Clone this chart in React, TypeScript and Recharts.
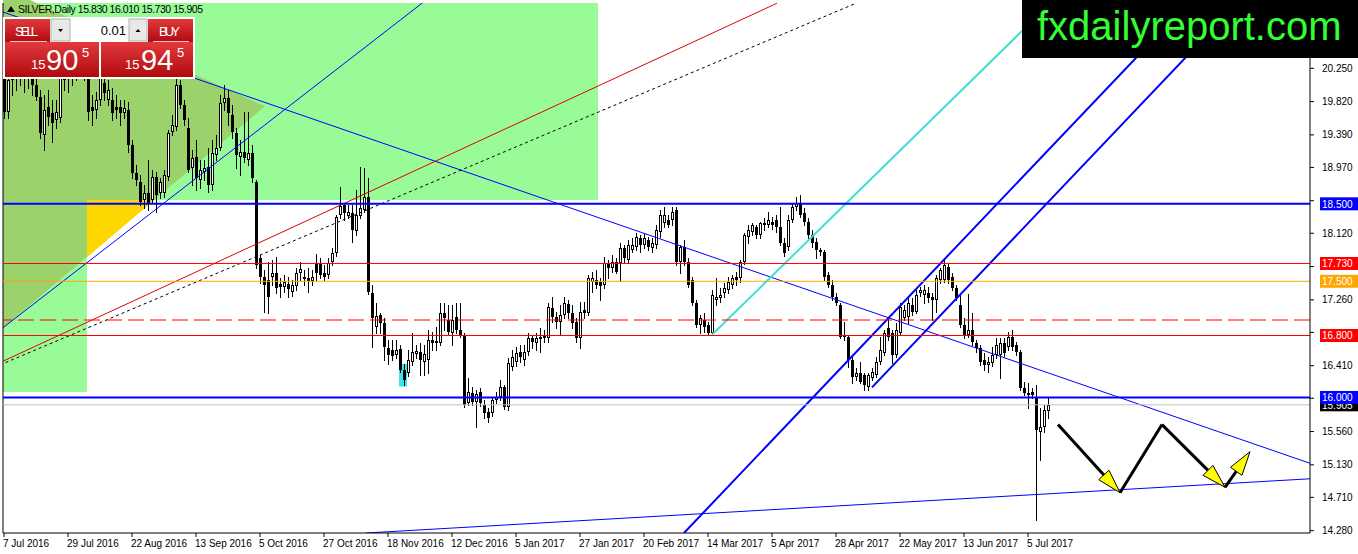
import { ComposedChart, Bar, XAxis, YAxis, ReferenceLine, ReferenceArea } from "recharts";

type Ohlc = [number, number, number, number];

// daily candles, [open, high, low, close]
const barsJulSep16: Ohlc[] = [
  [20.29, 20.42, 19.61, 19.69], [19.69, 20.33, 19.61, 20.1], [20.1, 20.42, 19.91, 20.2], [20.2, 20.55, 19.97, 20.36],
  [20.36, 20.62, 20.03, 20.29], [20.29, 20.62, 19.94, 20.42], [20.42, 20.55, 20.0, 20.23], [20.23, 20.42, 19.91, 20.03],
  [20.03, 20.23, 19.84, 19.88], [19.88, 19.97, 19.35, 19.42], [19.39, 19.91, 19.2, 19.71], [19.75, 19.97, 19.52, 19.62],
  [19.67, 19.84, 19.3, 19.54], [19.58, 19.84, 19.48, 19.69], [19.61, 20.36, 19.56, 20.14], [20.1, 20.55, 19.97, 20.29],
  [20.29, 20.55, 19.94, 20.16], [20.16, 20.62, 20.03, 20.36], [20.36, 20.68, 20.1, 20.23], [20.23, 20.74, 20.12, 20.42],
  [20.42, 20.68, 20.1, 20.25], [20.23, 20.49, 19.58, 19.69], [19.75, 19.91, 19.52, 19.7], [19.71, 19.94, 19.61, 19.84],
  [19.84, 20.36, 19.78, 20.14], [20.06, 20.29, 19.84, 19.93], [19.84, 20.1, 19.78, 19.97], [19.84, 20.0, 19.58, 19.67],
  [19.75, 19.91, 19.61, 19.71], [19.75, 19.84, 19.52, 19.67], [19.67, 19.84, 19.61, 19.74], [19.71, 19.82, 19.17, 19.26],
  [19.26, 19.32, 18.83, 18.9], [18.9, 19.0, 18.74, 18.81], [18.78, 18.87, 18.49, 18.52], [18.55, 18.74, 18.45, 18.64],
  [18.64, 19.07, 18.42, 18.51], [18.55, 18.94, 18.51, 18.85], [18.85, 18.91, 18.4, 18.61], [18.64, 18.83, 18.58, 18.78],
  [18.64, 18.94, 18.59, 18.87], [18.85, 19.45, 18.81, 19.42], [19.43, 19.65, 19.39, 19.52], [19.49, 20.13, 19.45, 20.03],
  [20.03, 20.1, 19.74, 19.78], [19.78, 19.84, 19.52, 19.58], [19.48, 19.61, 18.91, 18.94], [18.96, 19.2, 18.74, 19.09],
  [19.1, 19.32, 18.68, 18.83], [18.81, 19.07, 18.7, 18.94], [18.91, 19.07, 18.81, 18.96], [18.98, 19.22, 18.65, 18.74],
  [18.74, 19.32, 18.68, 19.16], [19.13, 19.39, 19.07, 19.22], [19.22, 19.91, 19.2, 19.8], [19.8, 20.03, 19.71, 19.87],
  [19.87, 19.97, 19.52, 19.67], [19.65, 19.78, 19.35, 19.43], [19.42, 19.48, 18.96, 19.13], [19.1, 19.32, 18.87, 19.17],
  [19.17, 19.69, 19.04, 19.09], [19.07, 19.69, 19.0, 19.16], [19.16, 19.26, 18.78, 18.83], [18.78, 18.81, 17.67, 17.71],
];

const barsOctDec16: Ohlc[] = [
  [17.8, 17.84, 17.48, 17.56], [17.56, 17.65, 17.1, 17.45], [17.52, 17.75, 17.09, 17.3], [17.56, 17.78, 17.45, 17.61],
  [17.61, 17.81, 17.35, 17.41], [17.47, 17.54, 17.3, 17.43], [17.43, 17.58, 17.36, 17.49], [17.47, 17.56, 17.3, 17.4],
  [17.36, 17.52, 17.31, 17.45], [17.44, 17.67, 17.39, 17.61], [17.61, 17.75, 17.52, 17.66], [17.53, 17.65, 17.45, 17.56],
  [17.54, 17.67, 17.36, 17.5], [17.5, 17.65, 17.45, 17.56], [17.72, 17.85, 17.52, 17.61], [17.72, 17.8, 17.54, 17.58],
  [17.61, 17.71, 17.52, 17.56], [17.58, 17.8, 17.54, 17.74], [17.75, 17.93, 17.71, 17.87], [17.87, 18.36, 17.83, 18.33],
  [18.36, 18.72, 18.32, 18.47], [18.49, 18.51, 18.29, 18.38], [18.34, 18.49, 18.32, 18.4], [18.38, 18.49, 18.01, 18.16],
  [18.15, 18.68, 18.1, 18.36], [18.34, 18.98, 18.32, 18.45], [18.42, 18.96, 18.4, 18.59], [18.59, 18.83, 17.34, 17.36],
  [17.35, 17.45, 16.65, 17.03], [16.91, 17.22, 16.83, 17.05], [17.07, 17.09, 16.83, 16.96], [16.96, 17.03, 16.48, 16.65],
  [16.64, 16.74, 16.43, 16.55], [16.61, 16.74, 16.48, 16.54], [16.55, 16.74, 16.51, 16.61], [16.63, 16.68, 16.33, 16.36],
  [16.36, 16.43, 16.16, 16.23], [16.32, 16.61, 16.28, 16.48], [16.46, 16.83, 16.42, 16.59], [16.56, 16.68, 16.51, 16.6],
  [16.59, 16.7, 16.29, 16.48], [16.46, 16.68, 16.29, 16.56], [16.48, 16.87, 16.32, 16.74], [16.74, 16.85, 16.61, 16.7],
  [16.73, 16.91, 16.61, 16.7], [16.7, 17.22, 16.68, 17.09], [17.09, 17.22, 16.87, 17.03], [17.0, 17.19, 16.81, 16.85],
  [16.83, 17.19, 16.68, 17.0], [17.04, 17.22, 16.83, 16.87], [16.87, 17.22, 16.78, 16.81], [16.79, 16.83, 15.88, 15.9],
  [15.93, 16.25, 15.9, 16.07], [16.06, 16.14, 15.9, 15.94], [15.94, 16.1, 15.62, 16.05], [16.07, 16.12, 15.89, 15.93],
  [15.9, 15.97, 15.74, 15.8], [15.81, 15.86, 15.68, 15.74], [15.8, 15.99, 15.76, 15.97], [15.97, 16.07, 15.93, 16.01],
  [16.01, 16.23, 15.97, 16.14], [16.14, 16.16, 15.85, 15.88], [15.88, 16.51, 15.84, 16.45], [16.39, 16.61, 16.36, 16.52],
];

const barsJanApr17: Ohlc[] = [
  [16.46, 16.65, 16.41, 16.57], [16.59, 16.68, 16.46, 16.52], [16.48, 16.68, 16.42, 16.59], [16.59, 16.83, 16.55, 16.77],
  [16.77, 16.81, 16.64, 16.72], [16.7, 16.83, 16.61, 16.77], [16.76, 16.9, 16.59, 16.78], [16.79, 16.87, 16.72, 16.77],
  [16.77, 17.22, 16.72, 17.17], [17.16, 17.3, 16.97, 17.04], [17.04, 17.1, 16.9, 16.97], [16.97, 17.19, 16.81, 17.07],
  [17.07, 17.3, 17.03, 17.22], [17.21, 17.26, 17.03, 17.09], [17.09, 17.19, 16.9, 16.96], [16.97, 17.03, 16.72, 16.77],
  [16.77, 17.23, 16.64, 17.1], [17.13, 17.23, 17.03, 17.09], [17.09, 17.58, 17.07, 17.54], [17.49, 17.62, 17.36, 17.54],
  [17.52, 17.65, 17.41, 17.45], [17.49, 17.54, 17.26, 17.44], [17.45, 17.81, 17.41, 17.74], [17.74, 17.78, 17.54, 17.67],
  [17.67, 17.84, 17.62, 17.75], [17.75, 17.8, 17.61, 17.62], [17.74, 17.99, 17.5, 17.93], [17.93, 17.97, 17.75, 17.8],
  [17.78, 18.03, 17.74, 17.97], [17.9, 18.06, 17.88, 17.97], [17.94, 18.12, 17.9, 18.07], [18.06, 18.1, 17.88, 17.97],
  [17.97, 18.12, 17.93, 18.06], [18.03, 18.07, 17.9, 17.94], [17.93, 18.06, 17.88, 17.99], [17.97, 18.23, 17.93, 18.16],
  [18.14, 18.42, 18.07, 18.36], [18.25, 18.46, 18.2, 18.36], [18.29, 18.36, 18.2, 18.23], [18.29, 18.46, 18.23, 18.4],
  [18.42, 18.46, 17.71, 17.75], [17.75, 17.97, 17.61, 17.94], [17.94, 18.03, 17.71, 17.75], [17.75, 17.8, 17.43, 17.45],
  [17.52, 17.56, 17.19, 17.22], [17.22, 17.26, 16.91, 16.94], [16.94, 17.07, 16.83, 17.03], [17.0, 17.09, 16.85, 16.91],
  [16.94, 16.97, 16.82, 16.83], [16.83, 17.39, 16.81, 17.32], [17.26, 17.54, 17.19, 17.3], [17.28, 17.41, 17.23, 17.32],
  [17.35, 17.48, 17.3, 17.41], [17.39, 17.56, 17.35, 17.49], [17.45, 17.58, 17.41, 17.54], [17.56, 17.62, 17.45, 17.52],
  [17.54, 17.78, 17.49, 17.75], [17.75, 18.12, 17.72, 18.1], [18.07, 18.23, 17.99, 18.16], [18.14, 18.25, 18.1, 18.23],
  [18.2, 18.23, 18.06, 18.1], [18.1, 18.27, 18.06, 18.25], [18.25, 18.32, 18.16, 18.23], [18.23, 18.4, 18.2, 18.29],
];

const barsAprJul17: Ohlc[] = [
  [18.27, 18.33, 18.18, 18.23], [18.29, 18.36, 18.14, 18.2], [18.2, 18.46, 17.97, 17.99], [17.99, 18.06, 17.83, 17.87],
  [17.94, 18.36, 17.9, 18.29], [18.29, 18.51, 18.27, 18.46], [18.46, 18.59, 18.42, 18.51], [18.51, 18.61, 18.33, 18.36],
  [18.38, 18.45, 18.23, 18.27], [18.27, 18.32, 18.06, 18.1], [18.1, 18.16, 17.94, 17.99], [18.01, 18.06, 17.8, 17.9],
  [17.88, 17.93, 17.84, 17.9], [17.88, 17.9, 17.52, 17.56], [17.58, 17.62, 17.43, 17.45], [17.45, 17.52, 17.26, 17.3],
  [17.3, 17.35, 17.19, 17.22], [17.19, 17.22, 16.77, 16.78], [16.78, 16.97, 16.74, 16.81], [16.78, 16.81, 16.39, 16.48],
  [16.48, 16.52, 16.19, 16.26], [16.26, 16.38, 16.23, 16.32], [16.32, 16.46, 16.19, 16.2], [16.29, 16.32, 16.1, 16.16],
  [16.14, 16.32, 16.1, 16.29], [16.25, 16.38, 16.23, 16.33], [16.29, 16.52, 16.26, 16.46], [16.46, 16.78, 16.43, 16.61],
  [16.57, 16.87, 16.55, 16.83], [16.9, 17.04, 16.74, 16.78], [16.83, 16.87, 16.45, 16.55], [16.55, 16.96, 16.52, 16.87],
  [16.83, 17.22, 16.81, 17.17], [17.03, 17.19, 17.0, 17.13], [17.04, 17.3, 16.96, 17.22], [17.19, 17.28, 17.07, 17.1],
  [17.1, 17.39, 17.09, 17.32], [17.35, 17.43, 17.31, 17.39], [17.32, 17.45, 17.22, 17.39], [17.35, 17.43, 17.23, 17.28],
  [17.3, 17.35, 17.0, 17.26], [17.26, 17.58, 17.1, 17.54], [17.52, 17.67, 17.48, 17.65], [17.52, 17.78, 17.49, 17.71],
  [17.68, 17.74, 17.48, 17.52], [17.56, 17.61, 17.39, 17.41], [17.41, 17.45, 17.26, 17.28], [17.19, 17.32, 16.91, 16.94],
  [16.94, 17.03, 16.77, 16.81], [16.81, 17.34, 16.78, 16.87], [16.87, 17.09, 16.68, 16.72], [16.7, 16.74, 16.59, 16.64],
  [16.64, 16.68, 16.42, 16.46], [16.48, 16.57, 16.36, 16.42], [16.42, 16.52, 16.33, 16.46], [16.45, 16.65, 16.41, 16.55],
  [16.55, 16.77, 16.51, 16.68], [16.55, 16.77, 16.25, 16.7], [16.7, 16.77, 16.54, 16.57], [16.65, 16.85, 16.61, 16.78],
  [16.78, 16.87, 16.61, 16.65], [16.68, 16.72, 16.55, 16.59], [16.59, 16.61, 16.1, 16.12], [16.12, 16.2, 16.03, 16.06],
  [16.03, 16.19, 15.86, 16.06], [16.07, 16.12, 15.99, 16.03], [16.01, 16.16, 14.42, 15.58], [15.55, 15.86, 15.19, 15.62],
  [15.62, 15.9, 15.55, 15.84], [15.83, 16.01, 15.73, 15.905],
];

const dateLabels = [
  "7 Jul 2016", "29 Jul 2016", "22 Aug 2016", "13 Sep 2016", "5 Oct 2016", "27 Oct 2016",
  "18 Nov 2016", "12 Dec 2016", "5 Jan 2017", "27 Jan 2017", "20 Feb 2017", "14 Mar 2017",
  "5 Apr 2017", "28 Apr 2017", "22 May 2017", "13 Jun 2017", "5 Jul 2017",
];
const dateTickBars = dateLabels.map((_, k) => k * 16);
const priceTicks = [20.25, 19.82, 19.39, 18.97, 18.54, 18.12, 17.69, 17.26, 16.84, 16.41, 15.99, 15.56, 15.13, 14.71, 14.28];

// horizontal levels
const blueLevels = [18.5, 16.0];
const redLevels = [17.73, 16.8];
const orangeLevel = 17.5;
const dashedLevel = 17.0;
const lastClose = 15.905;
const taggedLevels = [...blueLevels, ...redLevels, orangeLevel, lastClose];

// trend lines, {bar index, price}
const blueRise = [{ x: -1, y: 16.87 }, { x: 105, y: 21.11 }];
const blueFall = [{ x: -1, y: 20.99 }, { x: 326.5, y: 15.15 }];
const redRise = [{ x: -1, y: 16.45 }, { x: 193.25, y: 21.09 }];
const dottedRise = [{ x: -1, y: 16.42 }, { x: 213, y: 21.09 }];
const cyanRise = [{ x: 177, y: 16.81 }, { x: 262, y: 21.11 }];
const channelLow = [{ x: 170, y: 14.25 }, { x: 296, y: 21.09 }];
const channelHigh = [{ x: 217, y: 16.13 }, { x: 308.3, y: 21.09 }];
const supportLow = [{ x: 90.5, y: 14.25 }, { x: 326.5, y: 14.95 }];

// zigzag forecast
const forecastPath = [
  { x: 263.5, y: 15.65 }, { x: 279, y: 14.77 }, { x: 289.5, y: 15.65 }, { x: 305.25, y: 14.84 }, { x: 311.5, y: 15.3 },
];
const forecastHeads = [true, false, true, true];

// shaded zones
const wedge = { left: -0.25, right: 65.25, top: 21.29, bottom: 16.9, tip: 19.76 };
const wedgeCut = { left: 20.75, right: 37.5, top: 18.55, bottom: 17.81 };

const data = [...barsJulSep16, ...barsOctDec16, ...barsJanApr17, ...barsAprJul17].map(([open, high, low, close], i) => ({
  i,
  open,
  high,
  low,
  close,
  range: [low, high],
}));

const FONT = "Tahoma, 'Liberation Sans', Arial, sans-serif";
const X_DOMAIN: [number, number] = [-0.25, 326.5];
const Y_DOMAIN: [number, number] = [14.25, 21.093];

const Candle = (props: any) => {
  const { x, y, width, height, payload } = props;
  if (!payload) return null;
  const { open, high, low, close } = payload;
  const top = Math.min(y, y + height);
  const span = Math.abs(height);
  const k = high === low ? 0 : span / (high - low);
  const cx = Math.round(x + width / 2);
  const yO = top + (high - open) * k;
  const yC = top + (high - close) * k;
  const bTop = Math.round(Math.min(yO, yC));
  const bH = Math.max(1, Math.round(Math.max(yO, yC)) - bTop);
  return (
    <g shapeRendering="crispEdges">
      <line x1={cx + 0.5} x2={cx + 0.5} y1={Math.round(top)} y2={Math.round(top + span) + 1} stroke="#000" />
      {close > open ? (
        <rect x={cx - 0.5} y={bTop + 0.5} width={2} height={Math.max(bH - 1, 1)} fill="#fff" stroke="#000" />
      ) : (
        <rect x={cx - 1} y={bTop} width={3} height={bH} fill="#000" />
      )}
    </g>
  );
};

const PriceTag = (props: any) => {
  const { viewBox, text, bg } = props;
  if (!viewBox) return null;
  const right = viewBox.x + viewBox.width;
  return (
    <g>
      <rect x={right + 10} y={viewBox.y - 6.5} width={38} height={13} fill={bg} />
      <text x={right + 12} y={viewBox.y + 4} fill="#fff" fontSize={10} fontFamily={FONT}>
        {text}
      </text>
    </g>
  );
};

// horizontal level drawn with an explicit colour
const levelShape = (color: string, width = 1, dash?: string) => (p: any) =>
  (
    <line
      x1={p.x1}
      x2={p.x2}
      y1={p.y1}
      y2={p.y2}
      stroke={color}
      strokeWidth={width}
      strokeDasharray={dash}
      fill="none"
    />
  );

// price ticks; the part of a tick label that sits under a coloured price tag is not drawn
const PriceTick = (props: any) => {
  const { x, y, payload, index } = props;
  const v: number = payload.value;
  const pxPerUnit = 530 / (Y_DOMAIN[1] - Y_DOMAIN[0]);
  const bands = taggedLevels.map((lv) => y + (v - lv) * pxPerUnit).filter((ty) => Math.abs(ty - y) < 12);
  const id = `pt-clip-${index}`;
  let clip: string | undefined;
  let clipEl = null;
  if (bands.length) {
    clip = `url(#${id})`;
    clipEl = (
      <clipPath id={id}>
        <rect x={x - 2} y={bands[0] + 6.5} width={60} height={20} />
      </clipPath>
    );
  }
  return (
    <g>
      {clipEl}
      <text x={x} y={y} dy="0.355em" fontSize={10} fill="#000" fontFamily={FONT} clipPath={clip}>
        {v.toFixed(3)}
      </text>
    </g>
  );
};

const arrowShape = (head: boolean) => (p: any) => {
  const { x1, y1, x2, y2 } = p;
  const len = Math.hypot(x2 - x1, y2 - y1) || 1;
  const ux = (x2 - x1) / len;
  const uy = (y2 - y1) / len;
  const bx = x2 - ux * 24;
  const by = y2 - uy * 24;
  const w = 7;
  return (
    <g>
      <line x1={x1} y1={y1} x2={head ? bx : x2} y2={head ? by : y2} stroke="#000" strokeWidth={3} />
      {head && (
        <polygon
          points={`${x2},${y2} ${bx - uy * w},${by + ux * w} ${bx + uy * w},${by - ux * w}`}
          fill="#ffff00"
          stroke="#000"
          strokeWidth={1}
        />
      )}
    </g>
  );
};

const WedgeShape = (p: any) => {
  const { x, y, width, height } = p;
  const f = (wedge.top - wedge.tip) / (wedge.top - wedge.bottom);
  return <polygon points={`${x},${y} ${x + width},${y + f * height} ${x},${y + height}`} fill="#9bd26c" />;
};

const CutShape = (p: any) => {
  const { x, y, width, height } = p;
  return <polygon points={`${x},${y} ${x + width},${y} ${x},${y + height}`} fill="#ffd700" />;
};

const DateTick = (props: any) => {
  const { x, y, payload } = props;
  return (
    <text x={x - 1} y={y + 8} fontSize={10} fill="#000" fontFamily={FONT}>
      {dateLabels[Math.round(payload.value / 16)]}
    </text>
  );
};

const Overlay = () => (
  <svg width={1358} height={554} style={{ position: "absolute", left: 0, top: 0, pointerEvents: "none" }}>
    <defs>
      <linearGradient id="redBtn" x1="0" y1="0" x2="0" y2="1">
        <stop offset="0" stopColor="#e23a3c" />
        <stop offset="1" stopColor="#b00a10" />
      </linearGradient>
    </defs>
    <rect x={1022} y={0} width={336} height={58} fill="#000" />
    <text x={1037} y={40} fontSize={40} fill="#33ff33" fontFamily="Arial, 'Liberation Sans', sans-serif">
      fxdailyreport.com
    </text>
    <polygon points="7,12 11,6 15,12" fill="#000" />
    <text x={18} y={13} fontSize={10.5} textLength={185} fontFamily={FONT} fill="#000">
      SILVER,Daily  15.830 16.010 15.730 15.905
    </text>
    <rect x={3} y={17} width={192} height={62} fill="#fff" />
    <rect x={5} y={19} width={45} height={23} fill="url(#redBtn)" />
    <rect x={148} y={19} width={45} height={23} fill="url(#redBtn)" />
    <rect x={5} y={42} width={94} height={35} fill="url(#redBtn)" />
    <rect x={101} y={42} width={92} height={35} fill="url(#redBtn)" />
    <line x1={10} x2={47} y1={41.5} y2={41.5} stroke="#f4c0c0" />
    <line x1={153} x2={189} y1={41.5} y2={41.5} stroke="#f4c0c0" />
    <rect x={51} y={19} width={19} height={22} fill="#e8e8e8" stroke="#b0b0b0" />
    <polygon points="58,29 63,29 60.5,32" fill="#000" />
    <rect x={71} y={19} width={57} height={22} fill="#fff" />
    <rect x={129} y={19} width={18} height={22} fill="#e8e8e8" stroke="#b0b0b0" />
    <polygon points="135.5,32 140.5,32 138,29" fill="#000" />
    <text x={15} y={36} fontSize={13} textLength={23} fill="#fff" fontFamily={FONT}>SELL</text>
    <text x={159} y={36} fontSize={13} textLength={21} fill="#fff" fontFamily={FONT}>BUY</text>
    <text x={126} y={35} fontSize={13} textAnchor="end" fill="#000" fontFamily={FONT}>0.01</text>
    <text x={31} y={69} fontSize={13} fill="#fff" fontFamily={FONT}>15</text>
    <text x={46} y={70} fontSize={29} fill="#fff" fontFamily={FONT}>90</text>
    <text x={82} y={57} fontSize={13} fill="#fff" fontFamily={FONT}>5</text>
    <text x={125} y={69} fontSize={13} fill="#fff" fontFamily={FONT}>15</text>
    <text x={141} y={70} fontSize={29} fill="#fff" fontFamily={FONT}>94</text>
    <text x={177} y={57} fontSize={13} fill="#fff" fontFamily={FONT}>5</text>
  </svg>
);

const App = () => {
  return (
    <div style={{ position: "absolute", left: 0, top: 0, width: 1358, height: 554, background: "#fff" }}>
      <ComposedChart width={1358} height={554} data={data} margin={{ top: 3, right: 0, bottom: 0, left: 3 }}>
        <XAxis
          type="number"
          dataKey="i"
          domain={X_DOMAIN}
          allowDataOverflow
          ticks={dateTickBars}
          interval={0}
          height={21}
          tickSize={4}
          axisLine={{ stroke: "#000" }}
          tickLine={{ stroke: "#000" }}
          tick={<DateTick />}
        />
        <YAxis
          type="number"
          orientation="right"
          domain={Y_DOMAIN}
          allowDataOverflow
          ticks={priceTicks}
          interval={0}
          width={48}
          tickSize={4}
          tickMargin={8}
          axisLine={{ stroke: "#000" }}
          tickLine={{ stroke: "#000" }}
          tick={<PriceTick />}
        />

        <ReferenceArea x1={X_DOMAIN[0]} x2={148.5} y1={18.55} y2={Y_DOMAIN[1]} fill="#98fb98" fillOpacity={1} ifOverflow="hidden" />
        <ReferenceArea x1={X_DOMAIN[0]} x2={20.75} y1={16.07} y2={18.55} fill="#98fb98" fillOpacity={1} ifOverflow="hidden" />
        <ReferenceArea
          x1={wedge.left}
          x2={wedge.right}
          y1={wedge.bottom}
          y2={wedge.top}
          ifOverflow="hidden"
          shape={WedgeShape}
        />
        <ReferenceArea
          x1={wedgeCut.left}
          x2={wedgeCut.right}
          y1={wedgeCut.bottom}
          y2={wedgeCut.top}
          ifOverflow="hidden"
          shape={CutShape}
        />
        <ReferenceArea x1={98.75} x2={100.75} y1={16.14} y2={16.43} fill="#3ae4ec" fillOpacity={1} />

        <Bar dataKey="range" barSize={3} isAnimationActive={false} shape={<Candle />} />

        <ReferenceLine x={X_DOMAIN[0]} stroke="#000" />
        <ReferenceLine segment={blueRise} stroke="#0000ff" ifOverflow="hidden" />
        <ReferenceLine segment={blueFall} stroke="#0000ff" ifOverflow="hidden" />
        <ReferenceLine segment={redRise} stroke="#e00000" ifOverflow="hidden" />
        <ReferenceLine segment={dottedRise} stroke="#000" strokeDasharray="3 3" ifOverflow="hidden" />
        <ReferenceLine segment={cyanRise} stroke="#40e0d0" strokeWidth={2} ifOverflow="hidden" />
        <ReferenceLine segment={channelLow} stroke="#0000ff" strokeWidth={2} ifOverflow="hidden" />
        <ReferenceLine segment={channelHigh} stroke="#0000ff" strokeWidth={2} ifOverflow="hidden" />
        <ReferenceLine segment={supportLow} stroke="#0000ff" ifOverflow="hidden" />

        <ReferenceLine y={dashedLevel} shape={levelShape("#ff0000", 1, "16 6")} />
        <ReferenceLine
          y={lastClose}
          shape={levelShape("#c0c0c0")}
          label={<PriceTag text={lastClose.toFixed(3)} bg="#000" />}
        />
        <ReferenceLine
          y={orangeLevel}
          shape={levelShape("#ffa500")}
          label={<PriceTag text={orangeLevel.toFixed(3)} bg="#ffa500" />}
        />
        <ReferenceLine
          y={redLevels[0]}
          shape={levelShape("#ff0000")}
          label={<PriceTag text={redLevels[0].toFixed(3)} bg="#ff0000" />}
        />
        <ReferenceLine
          y={redLevels[1]}
          shape={levelShape("#ff0000")}
          label={<PriceTag text={redLevels[1].toFixed(3)} bg="#ff0000" />}
        />
        <ReferenceLine
          y={blueLevels[0]}
          shape={levelShape("#0000ff", 2)}
          label={<PriceTag text={blueLevels[0].toFixed(3)} bg="#0000ff" />}
        />
        <ReferenceLine
          y={blueLevels[1]}
          shape={levelShape("#0000ff", 2)}
          label={<PriceTag text={blueLevels[1].toFixed(3)} bg="#0000ff" />}
        />

        {forecastPath.slice(1).map((pt, k) => (
          <ReferenceLine key={`f${k}`} segment={[forecastPath[k], pt]} shape={arrowShape(forecastHeads[k])} />
        ))}
      </ComposedChart>
      <Overlay />
    </div>
  );
};

export default App;
